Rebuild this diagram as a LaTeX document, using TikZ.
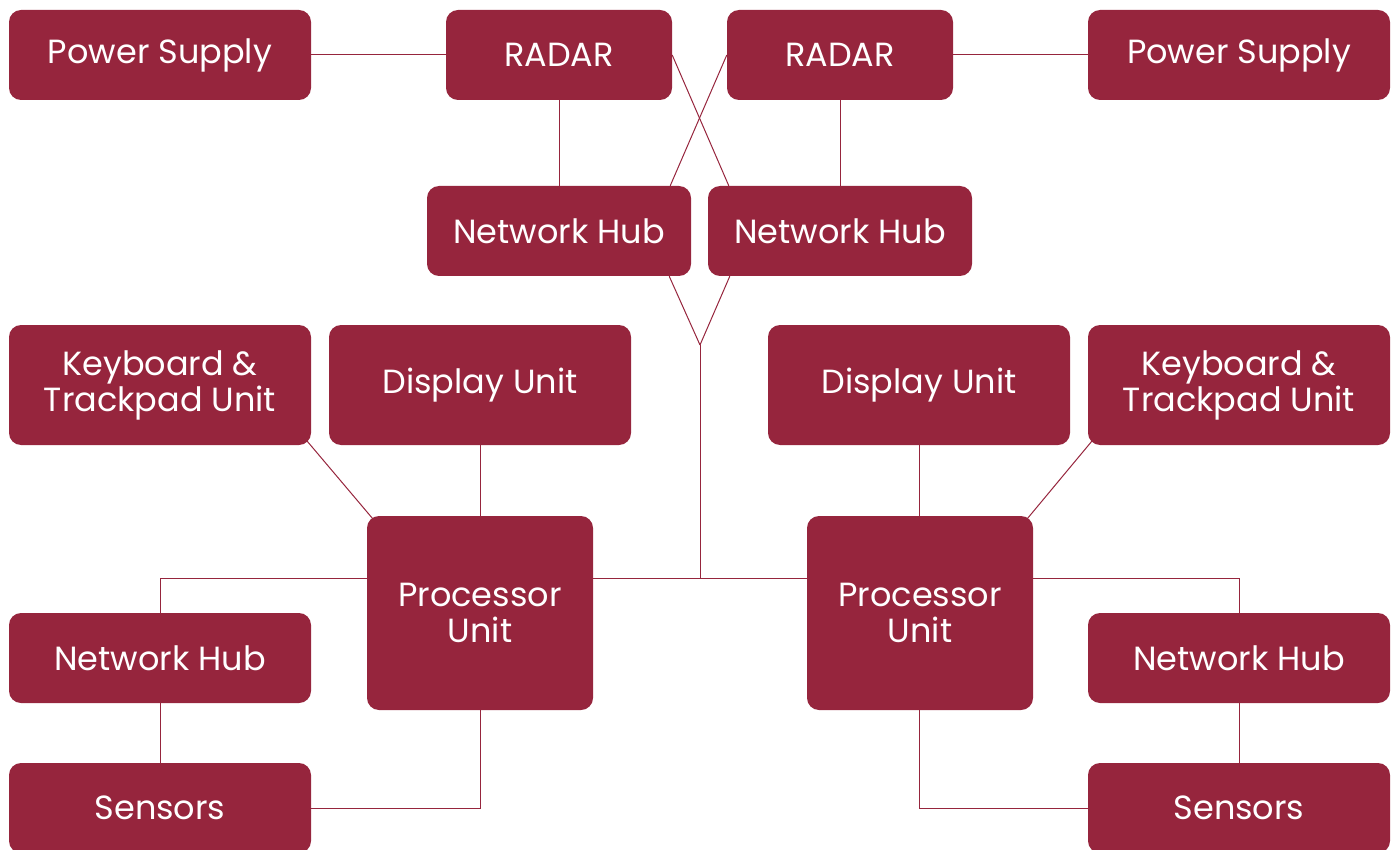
\documentclass[tikz,border=0pt]{standalone}
\usepackage{fontspec}
\setmainfont{Poppins}
\usetikzlibrary{calc}
\definecolor{wine}{HTML}{96253D}
\begin{document}
\begin{tikzpicture}[x=1pt,y=-1pt,
  box/.style={fill=wine,rounded corners=12pt,text=white,font=\fontsize{33.5}{36}\selectfont,
    align=center,inner sep=0pt,minimum width=302pt,minimum height=90pt},
  wide/.style={box,minimum width=226pt},
  hub/.style={box,minimum width=264pt},
  tall/.style={box,minimum height=120pt},
  proc/.style={box,minimum width=226pt,minimum height=194pt},
  link/.style={draw=wine,line width=1pt}]
\useasboundingbox (0,0) rectangle (1397,850);
% top row
\node[box]  (PS1) at (160,55)  {Power Supply};
\node[wide] (R1)  at (559,55)  {RADAR};
\node[wide] (R2)  at (840,55)  {RADAR};
\node[box]  (PS2) at (1239,55) {Power Supply};
\node[hub]  (N1)  at (559,231) {Network Hub};
\node[hub]  (N2)  at (840,231) {Network Hub};
% middle row
\node[tall] (K1)  at (160,385) {Keyboard \&\\Trackpad Unit};
\node[tall] (D1)  at (480,385) {Display Unit};
\node[tall] (D2)  at (919,385) {Display Unit};
\node[tall] (K2)  at (1239,385) {Keyboard \&\\Trackpad Unit};
% processors
\node[proc] (P1)  at (480,613) {Processor\\Unit};
\node[proc] (P2)  at (920,613) {Processor\\Unit};
% bottom
\node[box]  (N3)  at (160,658) {Network Hub};
\node[box]  (N4)  at (1239,658) {Network Hub};
\node[box]  (S1)  at (160,808) {Sensors};
\node[box]  (S2)  at (1239,808) {Sensors};
\coordinate (J) at (700,345);
\coordinate (M) at (700,578);
% connectors
\draw[link] (PS1.east) -- (R1.west);
\draw[link] (R2.east) -- (PS2.west);
\draw[link] (R1.south) -- (N1.north);
\draw[link] (R2.south) -- (N2.north);
\draw[link] (R1.east) -- ($(N2.north west)+(21,0)$);
\draw[link] (R2.west) -- ($(N1.north east)+(-21,0)$);
\draw[link] ($(N1.south east)+(-22,0)$) -- (J);
\draw[link] ($(N2.south west)+(22,0)$) -- (J);
\draw[link] (J) -- (M);
\draw[link] (P1.east |- M) -- (P2.west |- M);
% left cluster
\draw[link] ($(K1.south east)+(-4,-4)$) -- ($(P1.north west)+(6,3)$);
\draw[link] (D1.south) -- (P1.north);
\draw[link] (P1.west |- M) -| (N3.north);
\draw[link] (N3.south) -- (S1.north);
\draw[link] (P1.south) |- (S1.east);
% right cluster
\draw[link] ($(K2.south west)+(4,-4)$) -- ($(P2.north east)+(-6,3)$);
\draw[link] (D2.south) -- (D2.south |- P2.north);
\draw[link] (P2.east |- M) -| (N4.north);
\draw[link] (N4.south) -- (S2.north);
\draw[link] (D2.south |- P2.south) |- (S2.west);
\end{tikzpicture}
\end{document}
